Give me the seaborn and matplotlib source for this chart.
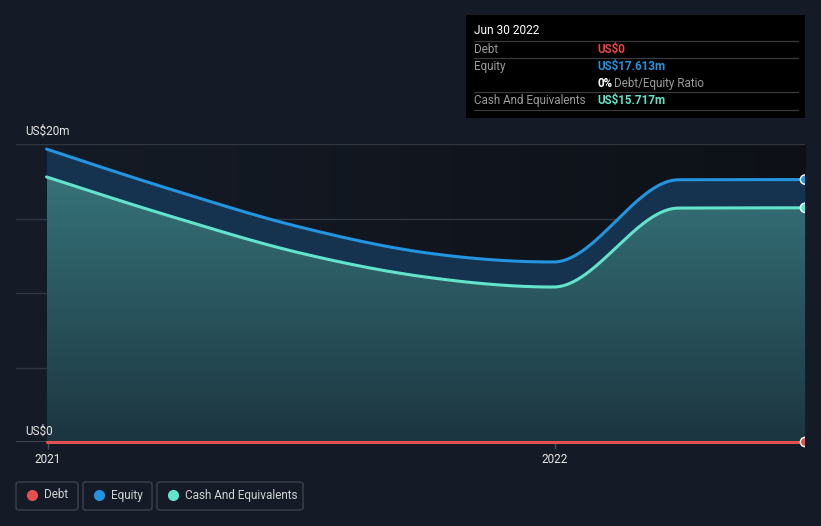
import numpy as np
import pandas as pd
import matplotlib
matplotlib.use("Agg")
import matplotlib.pyplot as plt
import seaborn as sns
from matplotlib.patches import FancyBboxPatch, Rectangle
from matplotlib.lines import Line2D
from matplotlib.colors import LinearSegmentedColormap

# ---------------- data ----------------
dates = ["2020-12-31", "2021-03-31", "2021-06-30", "2021-09-30",
         "2021-12-31", "2022-03-31", "2022-06-30"]
debt = [0, 0, 0, 0, 0, 0, 0]
equity = [19.66, 16.94, 14.46, 12.70, 12.08, 17.60, 17.613]
cash = [17.79, 15.13, 12.72, 11.07, 10.40, 15.70, 15.717]
series_names = ["Debt", "Equity", "Cash And Equivalents"]
x_tick_years = ["2021", "2022"]
y_label_top = "US$20m"
y_label_bottom = "US$0"
tooltip_title = "Jun 30 2022"
tooltip_debt = "US$0"
tooltip_equity = "US$17.613m"
tooltip_ratio = "0%"
tooltip_cash = "US$15.717m"

# ---------------- style ----------------
BG = "#151b26"
BG_DARK = "#0d1117"
C_DEBT = "#e45050"
C_EQ = "#2394df"
C_CASH = "#62e3cb"
GRID = "#30363f"
TXT = "#e6e6e6"
W, H = 821, 526

sns.set_theme(style="dark")
plt.rcParams["font.family"] = ["Roboto", "DejaVu Sans"]

fig = plt.figure(figsize=(W / 100, H / 100), dpi=100, facecolor=BG)


def fx(px):
    return px / W


def fy(py):
    return 1 - py / H


ax = fig.add_axes([fx(16), fy(442), fx(805) - fx(16), (442 - 144) / H])
ax.set_facecolor("none")
for s in ax.spines.values():
    s.set_visible(False)

base = pd.Timestamp("2021-01-01")
xd = np.array([(pd.Timestamp(d) - base).days for d in dates], float)
px_per_day = 508 / 365
xmin = -32 / px_per_day
xmax = xd[-1]


def monotone(x, y, n=400):
    x = np.asarray(x, float)
    y = np.asarray(y, float)
    h = np.diff(x)
    d = np.diff(y) / h
    m = np.zeros(len(x))
    for i in range(1, len(x) - 1):
        if d[i - 1] * d[i] <= 0:
            m[i] = 0
        else:
            p = (d[i - 1] * h[i] + d[i] * h[i - 1]) / (h[i - 1] + h[i])
            m[i] = (np.sign(d[i - 1]) + np.sign(d[i])) * min(abs(d[i - 1]), abs(d[i]), 0.5 * abs(p))
    m[0] = (3 * d[0] - m[1]) / 2
    m[-1] = (3 * d[-1] - m[-2]) / 2
    xs, ys = [], []
    for i in range(len(x) - 1):
        t = np.linspace(0, 1, n // (len(x) - 1), endpoint=(i == len(x) - 2))
        h00 = 2 * t**3 - 3 * t**2 + 1
        h10 = t**3 - 2 * t**2 + t
        h01 = -2 * t**3 + 3 * t**2
        h11 = t**3 - t**2
        xs.append(x[i] + t * h[i])
        ys.append(h00 * y[i] + h10 * h[i] * m[i] + h01 * y[i + 1] + h11 * h[i] * m[i + 1])
    return np.concatenate(xs), np.concatenate(ys)


xs_e, ys_e = monotone(xd, equity)
xs_c, ys_c = monotone(xd, cash)
xs_d, ys_d = monotone(xd, debt)

# background gradient
grad_h = np.linspace(0, 1, 256).reshape(1, -1)
bg_cmap = LinearSegmentedColormap.from_list("bg", [BG, BG_DARK])
ax.imshow(grad_h, extent=[xd[0], xmax, 0, 20], cmap=bg_cmap, aspect="auto", zorder=0)

# gridlines
for v in [5, 10, 15, 20]:
    ax.axhline(v, color=GRID, lw=1, zorder=1)

# equity fill
ax.fill_between(xs_e, 0, ys_e, color="#15334f", lw=0, zorder=2)
# cash gradient fill
poly = ax.fill_between(xs_c, 0, ys_c, color="none", lw=0, zorder=3)
grad_v = np.linspace(0, 1, 256).reshape(-1, 1)
cash_cmap = LinearSegmentedColormap.from_list("cash", ["#1c3540", "#397a80"])
im = ax.imshow(grad_v, extent=[xd[0], xmax, 0, 20], origin="lower", cmap=cash_cmap,
               aspect="auto", zorder=3)
im.set_clip_path(poly.get_paths()[0], transform=ax.transData)

# baseline
ax.axhline(0, color="#4a505b", lw=1.2, zorder=4)

# lines
df = pd.concat([
    pd.DataFrame({"day": xs_d, "value": ys_d + 0.06, "series": series_names[0]}).iloc[0:0],
    pd.DataFrame({"day": xs_e, "value": ys_e, "series": series_names[1]}),
    pd.DataFrame({"day": xs_c, "value": ys_c, "series": series_names[2]}),
    pd.DataFrame({"day": xs_d, "value": ys_d, "series": series_names[0]}),
])
pal = {series_names[0]: C_DEBT, series_names[1]: C_EQ, series_names[2]: C_CASH}
n_before = len(ax.lines)
sns.lineplot(data=df, x="day", y="value", hue="series", palette=pal, estimator=None,
             sort=False, legend=False, linewidth=2.2, ax=ax, zorder=5)

# end markers
ends = pd.DataFrame({"day": [xd[-1]] * 3, "value": [debt[-1], equity[-1], cash[-1]],
                     "series": series_names})
n_coll = len(ax.collections)
sns.scatterplot(data=ends, x="day", y="value", hue="series", palette=pal, s=45,
                edgecolor="white", linewidth=1, legend=False, ax=ax, zorder=6)

ax.set_xlim(xmin, xmax)
ax.set_ylim(0, 20)

# clip lines/markers only at the right edge (allow the zero line to show fully)
clip_rect = Rectangle((xmin, -3), xmax - xmin, 26, transform=ax.transData,
                      facecolor="none", edgecolor="none")
for ln in ax.lines[n_before:]:
    ln.set_clip_path(clip_rect)
for col in ax.collections[n_coll:]:
    col.set_clip_path(clip_rect)

ax.set_yticks([])
ax.set_xticks([0, 365])
ax.set_xticklabels(x_tick_years, color=TXT, fontsize=8.5)
ax.tick_params(axis="x", length=5, color="#4a505b", width=1, pad=3, bottom=True)
ax.set_xlabel("")
ax.set_ylabel("")
ax.grid(False)

# y labels
fig.text(fx(25), fy(131), y_label_top, color=TXT, fontsize=8.5, va="center", ha="left")
fig.text(fx(25), fy(431), y_label_bottom, color=TXT, fontsize=8.5, va="center", ha="left")

# tooltip
fig.add_artist(Rectangle((fx(466), fy(118)), fx(805) - fx(466), (118 - 15) / H,
                         transform=fig.transFigure, facecolor="#000000", edgecolor="none"))
fig.text(fx(474), fy(31), tooltip_title, color="white", fontsize=8.6, va="center")
for yy in [41, 58, 92, 110]:
    fig.add_artist(Line2D([fx(474), fx(798)], [fy(yy), fy(yy)], color="#3a3a3a", lw=0.9,
                          transform=fig.transFigure))
GRAYT = "#9b9b9b"
FS = 8.4
fig.text(fx(474), fy(49.5), "Debt", color=GRAYT, fontsize=FS, va="center")
fig.text(fx(597), fy(49.5), tooltip_debt, color="#e84545", fontsize=FS, va="center", fontweight="bold")
fig.text(fx(474), fy(66.5), "Equity", color=GRAYT, fontsize=FS, va="center")
fig.text(fx(597), fy(66.5), tooltip_equity, color=C_EQ, fontsize=FS, va="center", fontweight="bold")
fig.text(fx(597), fy(83.5), tooltip_ratio, color="white", fontsize=FS, va="center", fontweight="bold")
fig.text(fx(614), fy(83.5), "Debt/Equity Ratio", color=GRAYT, fontsize=FS, va="center")
fig.text(fx(474), fy(100.5), "Cash And Equivalents", color=GRAYT, fontsize=FS, va="center")
fig.text(fx(597), fy(100.5), tooltip_cash, color=C_CASH, fontsize=FS, va="center", fontweight="bold")

# legend
boxes = [(16, 78), (83, 152), (157, 303)]
cols = [C_DEBT, C_EQ, C_CASH]
for (x0, x1), name, c in zip(boxes, series_names, cols):
    fig.add_artist(FancyBboxPatch((fx(x0), fy(510)), fx(x1) - fx(x0), 28 / H,
                                  boxstyle="round,pad=0,rounding_size=0.004",
                                  transform=fig.transFigure, facecolor="none",
                                  edgecolor="#3b414d", lw=1))
    fig.add_artist(Line2D([fx(x0 + 16)], [fy(495)], marker="o", ms=7, color=c, mec=c,
                          transform=fig.transFigure))
    fig.text(fx(x0 + 28), fy(495), name, color="#cfd2d6", fontsize=8.5, va="center")

fig.savefig("out.png", dpi=100, facecolor=BG)
